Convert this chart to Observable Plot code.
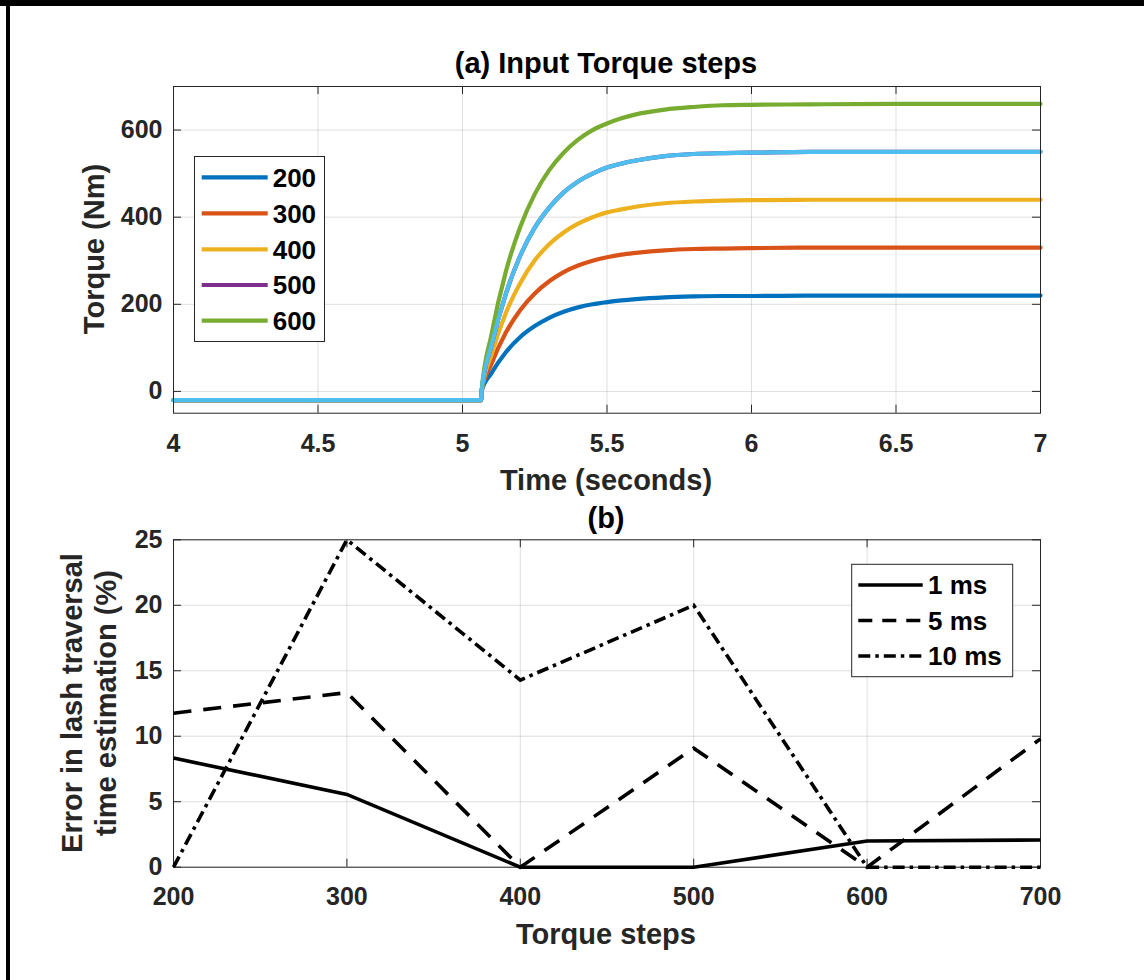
<!DOCTYPE html>
<html>
<head>
<meta charset="utf-8">
<script src="https://cdn.jsdelivr.net/npm/d3@7"></script>
<script src="https://cdn.jsdelivr.net/npm/@observablehq/plot@0.6"></script>
<style>
  body { margin: 0; background: #fff; }
  #fig { position: relative; width: 1144px; height: 980px; overflow: hidden; background: #fff; }
  #fig svg { position: absolute; left: 0; }
</style>
</head>
<body>
<div id="fig"></div>
<script>
// ---------- Data: (a) Input Torque steps ----------
const time = [4, 5.064, 5.066, 5.1, 5.15, 5.2, 5.25, 5.3, 5.35, 5.4, 5.45, 5.5, 5.55, 5.6, 5.7, 5.8, 5.9, 6.0, 6.2, 6.5, 7.0];
const torque200 = [-20, -20, 0, 42, 90, 125, 150, 169, 183, 193, 200, 205, 209, 212, 216, 218, 219, 219, 220, 220, 220];
const torque300 = [-20, -20, 0, 63, 135, 187, 225, 253, 274, 289, 300, 308, 314, 318, 324, 327, 328, 329, 330, 330, 330];
const torque400 = [-20, -20, 0, 84, 180, 249, 301, 338, 365, 385, 400, 411, 418, 424, 432, 436, 438, 439, 440, 440, 440];
const torque500 = [-20, -20, 0, 105, 224, 312, 376, 422, 457, 482, 500, 514, 523, 530, 540, 545, 547, 548, 550, 550, 550];
const torque600 = [-20, -20, 0, 130, 275, 378, 453, 508, 548, 578, 600, 615, 627, 636, 647, 653, 657, 658, 659, 660, 660];
const torqueExtra = [-20, -20, 0, 105, 224, 312, 376, 422, 457, 482, 500, 514, 523, 530, 540, 545, 547, 548, 550, 550, 550];
const legendA = ["200", "300", "400", "500", "600"];
const colorsA = ["#0072BD", "#D95319", "#EDB120", "#7E2F8E", "#77AC30"];
const extraColor = "#4DBEEE";
const xTicksA = [4, 4.5, 5, 5.5, 6, 6.5, 7];
const yTicksA = [0, 200, 400, 600];

// ---------- Data: (b) ----------
const steps = [200, 300, 400, 500, 600, 700];
const err1ms = [8.33, 5.56, 0, 0, 2.0, 2.08];
const err5ms = [11.76, 13.33, 0, 9.09, 0, 9.8];
const err10ms = [0, 25, 14.29, 20, 0, 0];
const legendB = ["1 ms", "5 ms", "10 ms"];
const dashesB = [null, "18,12", "12,5,3.5,5"];
const legendDashesB = [null, "14,10", "12,5,3.5,5"];
const xTicksB = [200, 300, 400, 500, 600, 700];
const yTicksB = [0, 5, 10, 15, 20, 25];

const FONT = '"Liberation Sans", Arial, Helvetica, sans-serif';
const AX = "#262626";
const fig = document.getElementById("fig");

function baseStyle() {
  return {fontFamily: FONT, fontSize: "25px", fontWeight: "bold", color: AX, background: "transparent", overflow: "visible"};
}

// ---------- Plot (a) ----------
const A = {top: 0, h: 490, mt: 86, mb: 77.3, ml: 173, mr: 104};
const fhA = A.h - A.mt - A.mb, fwA = 1144 - A.ml - A.mr;
const seriesA = [torque200, torque300, torque400, torque500, torque600].map((vals, k) => ({vals, color: colorsA[k]}));
seriesA.push({vals: torqueExtra, color: extraColor});

const plotA = Plot.plot({
  width: 1144, height: A.h,
  marginTop: A.mt, marginBottom: A.mb, marginLeft: A.ml, marginRight: A.mr,
  x: {domain: [4, 7]},
  y: {domain: [-50, 700]},
  style: baseStyle(),
  marks: [
    Plot.gridX(xTicksA, {stroke: AX, strokeOpacity: 0.15, strokeWidth: 1}),
    Plot.gridY(yTicksA, {stroke: AX, strokeOpacity: 0.15, strokeWidth: 1}),
    ...seriesA.map(s => Plot.line(time.map((t, i) => ({t, v: s.vals[i]})), {
      x: "t", y: "v", stroke: s.color, strokeWidth: 4.2, curve: "monotone-x", strokeLinejoin: "round"
    })),
    Plot.tickX(xTicksA, {x: d => d, insetTop: fhA - 8, stroke: AX}),
    Plot.tickX(xTicksA, {x: d => d, insetBottom: fhA - 8, stroke: AX}),
    Plot.tickY(yTicksA, {y: d => d, insetRight: fwA - 8, stroke: AX}),
    Plot.tickY(yTicksA, {y: d => d, insetLeft: fwA - 8, stroke: AX}),
    Plot.frame({stroke: AX, strokeWidth: 1}),
    Plot.axisX(xTicksA, {tickSize: 0, tickPadding: 21, tickFormat: d => String(d), label: null}),
    Plot.axisY(yTicksA, {tickSize: 0, tickPadding: 11, tickFormat: d => String(d), label: null})
  ]
});
plotA.style.top = A.top + "px";
fig.appendChild(plotA);

// ---------- Plot (b) ----------
const B = {top: 490, h: 490, mt: 49.3, mb: 113.3, ml: 173, mr: 104};
const fhB = B.h - B.mt - B.mb, fwB = 1144 - B.ml - B.mr;
const seriesB = [err1ms, err5ms, err10ms];

const plotB = Plot.plot({
  width: 1144, height: B.h,
  marginTop: B.mt, marginBottom: B.mb, marginLeft: B.ml, marginRight: B.mr,
  x: {domain: [200, 700]},
  y: {domain: [0, 25]},
  style: baseStyle(),
  marks: [
    Plot.gridX(xTicksB, {stroke: AX, strokeOpacity: 0.15, strokeWidth: 1}),
    Plot.gridY(yTicksB, {stroke: AX, strokeOpacity: 0.15, strokeWidth: 1}),
    Plot.tickX(xTicksB, {x: d => d, insetTop: fhB - 8, stroke: AX}),
    Plot.tickX(xTicksB, {x: d => d, insetBottom: fhB - 8, stroke: AX}),
    Plot.tickY(yTicksB, {y: d => d, insetRight: fwB - 8, stroke: AX}),
    Plot.tickY(yTicksB, {y: d => d, insetLeft: fwB - 8, stroke: AX}),
    Plot.frame({stroke: AX, strokeWidth: 1}),
    ...seriesB.map((vals, k) => Plot.line(steps.map((s, i) => ({s, v: vals[i]})), {
      x: "s", y: "v", stroke: "#000", strokeWidth: 3.6,
      strokeDasharray: dashesB[k] || undefined, strokeLinecap: "butt", strokeLinejoin: "miter", strokeMiterlimit: 10
    })),
    Plot.axisX(xTicksB, {tickSize: 0, tickPadding: 20.5, tickFormat: d => String(d), label: null}),
    Plot.axisY(yTicksB, {tickSize: 0, tickPadding: 11, tickFormat: d => String(d), label: null})
  ]
});
plotB.style.top = B.top + "px";
fig.appendChild(plotB);

// ---------- Overlay: titles, labels, legends, border ----------
const ov = d3.select(fig).append("svg")
  .attr("width", 1144).attr("height", 980)
  .style("top", "0px").style("pointer-events", "none")
  .attr("font-family", FONT).attr("font-weight", "bold");

function label(txt, x, y, opts = {}) {
  const t = ov.append("text").attr("x", x).attr("y", y)
    .attr("text-anchor", opts.anchor || "middle")
    .attr("font-size", opts.size || 29)
    .attr("fill", opts.fill || AX)
    .text(txt);
  if (opts.rotate) t.attr("transform", `rotate(-90 ${x} ${y})`);
  return t;
}
label("(a) Input Torque steps", 606, 73, {fill: "#000"});
label("Time (seconds)", 606, 490);
label("(b)", 606, 528, {fill: "#000"});
label("Torque steps", 606, 944);
label("Torque (Nm)", 104, 249, {rotate: true});
label("Error in lash traversal", 82, 703, {rotate: true});
label("time estimation (%)", 116, 703, {rotate: true});

// Legend (a)
ov.append("rect").attr("x", 194.5).attr("y", 156.5).attr("width", 130).attr("height", 185)
  .attr("fill", "#fff").attr("stroke", AX).attr("stroke-width", 1);
const legAY = [177.3, 213.3, 249.3, 285, 320.7];
legendA.forEach((name, k) => {
  ov.append("line").attr("x1", 201.7).attr("x2", 267.7).attr("y1", legAY[k]).attr("y2", legAY[k])
    .attr("stroke", colorsA[k]).attr("stroke-width", 4.2);
  ov.append("text").attr("x", 272.7).attr("y", legAY[k] + 9.3).attr("font-size", 26).attr("fill", "#000").text(name);
});

// Legend (b)
ov.append("rect").attr("x", 851.7).attr("y", 564.3).attr("width", 161).attr("height", 112.4)
  .attr("fill", "#fff").attr("stroke", AX).attr("stroke-width", 1);
const legBY = [585, 620.5, 656];
legendB.forEach((name, k) => {
  const l = ov.append("line").attr("x1", 858.3).attr("x2", 922.7).attr("y1", legBY[k]).attr("y2", legBY[k])
    .attr("stroke", "#000").attr("stroke-width", 3.6).attr("stroke-linecap", "butt");
  if (legendDashesB[k]) l.attr("stroke-dasharray", legendDashesB[k]);
  ov.append("text").attr("x", 928).attr("y", legBY[k] + 9.3).attr("font-size", 26).attr("fill", "#000").text(name);
});

// Figure border (top and left)
ov.append("rect").attr("x", 0).attr("y", 0).attr("width", 1144).attr("height", 6).attr("fill", "#000");
ov.append("rect").attr("x", 6).attr("y", 0).attr("width", 4).attr("height", 980).attr("fill", "#000");
</script>
</body>
</html>
